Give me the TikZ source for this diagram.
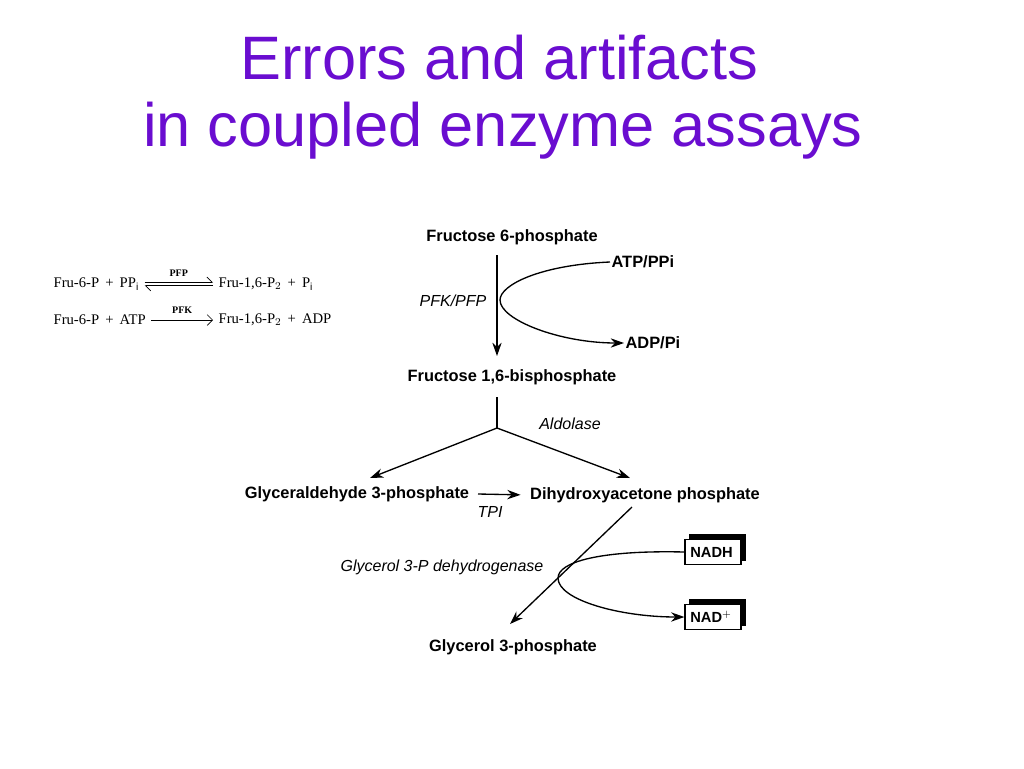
\documentclass[tikz,border=0pt]{standalone}
\usepackage{fontspec}
\setmainfont{Liberation Sans}
\newfontfamily\serifx{Liberation Serif}
\usetikzlibrary{arrows.meta,shadows}
\definecolor{ttl}{HTML}{6A0DD0}
\begin{document}
\begin{tikzpicture}[x=0.75pt,y=-0.75pt,
 lbl/.style={font=\fontsize{12.3}{14}\selectfont\bfseries,inner sep=1pt},
 enz/.style={font=\fontsize{12}{14}\selectfont\itshape,inner sep=1pt},
 eq/.style={font=\serifx\fontsize{11}{12}\selectfont,inner sep=1pt,anchor=west},
 arr/.style={-{Stealth[length=10pt,width=7pt]},line width=1pt},
 ln/.style={line width=1pt},
 cof/.style={draw,line width=0.9pt,fill=white,font=\fontsize{11}{13}\selectfont\bfseries,inner sep=4pt,
   minimum height=19pt,text width=34pt,align=left,
   copy shadow={shadow xshift=3.5pt,shadow yshift=3.5pt,fill=black,draw=black}}]
\useasboundingbox (0,0) rectangle (1024,768);
\node[text=ttl,font=\fontsize{46}{52}\selectfont,anchor=west,inner sep=0] (t1) at (240,58) {Errors and artifacts};
\node[text=ttl,font=\fontsize{46}{52}\selectfont,anchor=west,inner sep=0] (t2) at (143,131) {in coupled enzyme assays};
% left equations
\node[eq] (e1) at (52,284) {Fru-6-P \,+\, PP$_{\mathrm{i}}$};
\node[eq] (e1r) at (217,284) {Fru-1,6-P$_2$ \,+\, P$_{\mathrm{i}}$};
\draw[-{Straight Barb[left,length=4pt]},line width=0.5pt,shorten <=3pt,shorten >=3pt] ([yshift=1.2pt]e1.east) -- node[above,font=\serifx\fontsize{7.5}{8}\selectfont\bfseries,yshift=1pt]{PFP} ([yshift=1.2pt]e1r.west);
\draw[-{Straight Barb[left,length=4pt]},line width=0.5pt,shorten <=3pt,shorten >=3pt] ([yshift=-1.2pt]e1r.west) -- ([yshift=-1.2pt]e1.east);
\node[eq] (e2) at (52,320) {Fru-6-P \,+\, ATP};
\node[eq] (e2r) at (217,320) {Fru-1,6-P$_2$ \,+\, ADP};
\draw[-{Straight Barb[length=4pt]},line width=0.5pt,shorten <=3pt,shorten >=3pt] (e2.east) -- node[above,font=\serifx\fontsize{7.5}{8}\selectfont\bfseries,yshift=1pt]{PFK} (e2r.west);
% main pathway
\node[lbl] (f6p) at (512,237) {Fructose 6-phosphate};
\node[lbl,anchor=west] (atp) at (610,262) {ATP/PPi};
\node[lbl,anchor=west] (adp) at (624,343) {ADP/Pi};
\node[enz] (pfk) at (453,301) {PFK/PFP};
\node[lbl] (fbp) at (512,377) {Fructose 1,6-bisphosphate};
\coordinate (s1) at (497,255);
\coordinate (e1a) at (497,356);
\draw[arr] (s1) -- (e1a);
\draw[arr] (atp.west) .. controls (540,265) and (500,285) .. (500,300) .. controls (500,320) and (560,343) .. (adp.west);
\coordinate (b0) at (497,397);
\coordinate (b1) at (497,428);
\node[lbl] (gap) at (357,494) {Glyceraldehyde 3-phosphate};
\node[lbl] (dhap) at (645,495) {Dihydroxyacetone phosphate};
\node[enz] (ald) at (570,424) {Aldolase};
\draw[ln] (b0) -- (b1);
\draw[arr] (b1) -- (370,478);
\draw[arr] (b1) -- (630,478);
\coordinate (g1) at (478,494);
\draw[arr,shorten >=6pt] (g1) -- (dhap.west);
\node[enz] (tpi) at (490,512) {TPI};
\node[lbl] (g3p) at (513,647) {Glycerol 3-phosphate};
\node[enz] (gdh) at (442,567) {Glycerol 3-P dehydrogenase};
\coordinate (d1) at (632,507);
\coordinate (d2) at (510,624);
\draw[arr] (d1) -- (d2);
\node[cof] (nadh) at (713,552) {NADH};
\node[cof] (nad) at (713,617) {NAD$^{+}$};
\draw[arr] (nadh.west) .. controls (600,550) and (558,562) .. (558,578) .. controls (558,600) and (620,617) .. (nad.west);
\end{tikzpicture}
\end{document}
